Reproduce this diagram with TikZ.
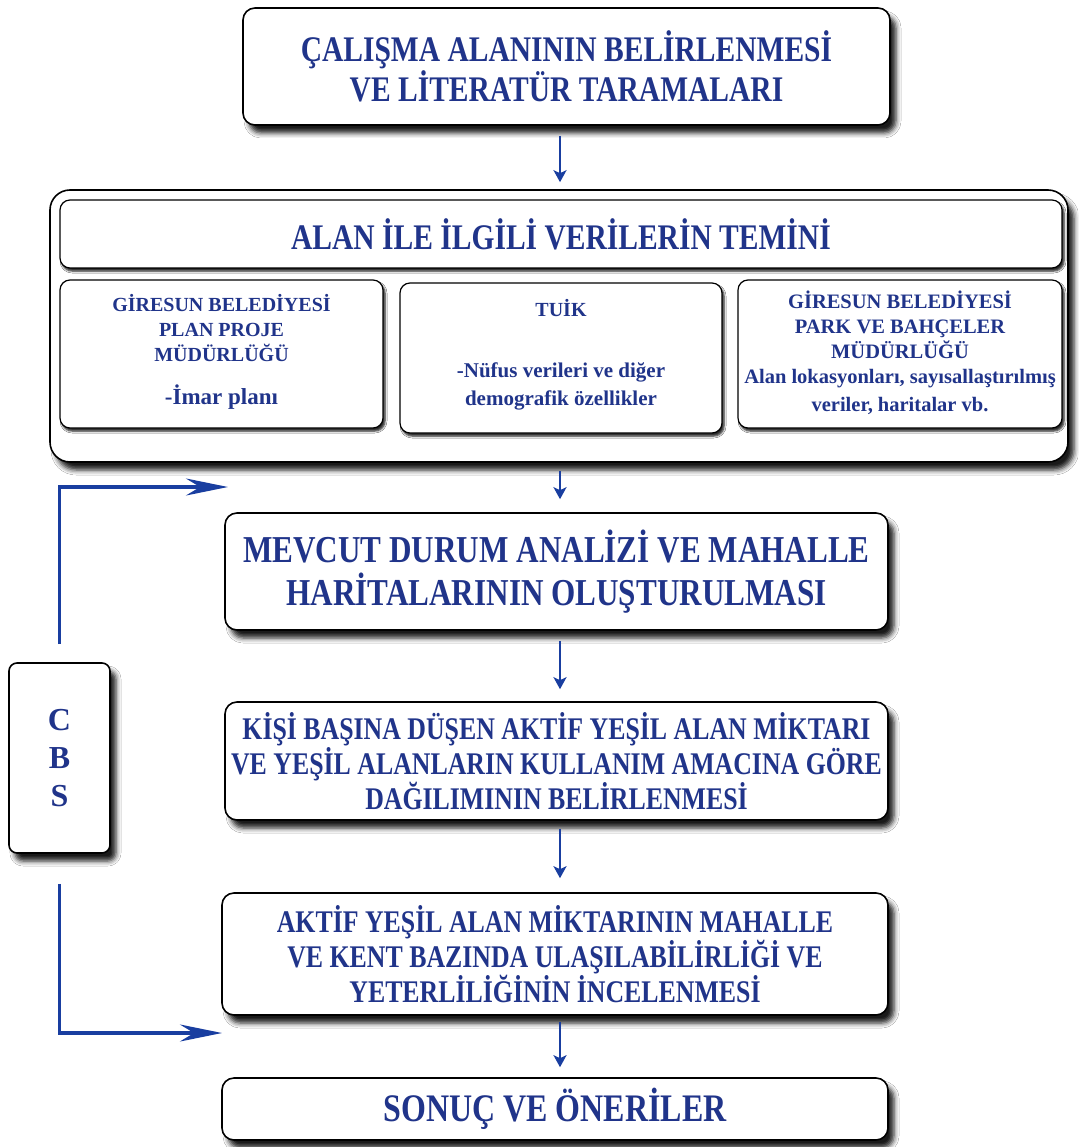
\documentclass[tikz,border=0pt]{standalone}
\usepackage{fontspec}
\setmainfont{Liberation Serif}[FakeStretch=0.82]
\newfontfamily\plainserif{Liberation Serif}
\usetikzlibrary{arrows.meta,shadows.blur}
\definecolor{tblue}{RGB}{32,52,138}
\definecolor{ablue}{RGB}{25,62,160}
\newcommand\fsz[2]{\fontsize{#1}{#2}\selectfont}
\begin{document}
\begin{tikzpicture}[x=1pt,y=-1pt,
  box/.style={draw=black, line width=1.6pt, rounded corners=12pt, fill=white,
    text=tblue, align=center, font=\bfseries, inner sep=0pt,
    blur shadow={shadow xshift=6pt, shadow yshift=-8pt, shadow blur radius=5pt, shadow opacity=90}},
  sbox/.style={box, line width=1.2pt, rounded corners=10pt,
    blur shadow={shadow xshift=2pt, shadow yshift=-3pt, shadow blur radius=2pt, shadow opacity=60}},
  lbl/.style={text=tblue, align=center, inner sep=0pt},
  varr/.style={draw=ablue, line width=2.6pt, -{Stealth[length=12pt,width=13pt,inset=3pt]}},
  carr/.style={draw=ablue, line width=3.5pt, -{Stealth[length=42pt,width=17pt,inset=14pt]}}]
\useasboundingbox (0,0) rectangle (1078,1147);
\fill[white] (0,0) rectangle (1078,1147);

\node[box, minimum width=647pt, minimum height=117pt, font=\bfseries\fsz{36}{40}] (b1) at (566.5,66.5)
  {ÇALIŞMA ALANININ BELİRLENMESİ\\VE LİTERATÜR TARAMALARI};

\node[box, rounded corners=20pt, minimum width=1018pt, minimum height=272pt] (outer) at (559,326) {};
\node[sbox, minimum width=1002pt, minimum height=68pt, font=\bfseries\fsz{36}{40}] (hdr) at (561,234)
  {ALAN İLE İLGİLİ VERİLERİN TEMİNİ};
\node[sbox, minimum width=323pt, minimum height=148pt] (s1) at (221.5,354) {};
\node[sbox, minimum width=322pt, minimum height=150pt] (s2) at (561,358) {};
\node[sbox, minimum width=324pt, minimum height=148pt] (s3) at (900,354) {};

\node[lbl, font=\plainserif\bfseries\fsz{20}{25}] (s1t) at (221.5,328) {GİRESUN BELEDİYESİ\\PLAN PROJE\\MÜDÜRLÜĞÜ};
\node[lbl, font=\plainserif\bfseries\fsz{23}{27}] (s1d) at (221.5,397) {-İmar planı};
\node[lbl, font=\plainserif\bfseries\fsz{20}{25}] (s2t) at (561,308) {TUİK};
\node[lbl, font=\plainserif\bfseries\fsz{21}{28}] (s2d) at (561,386) {-Nüfus verileri ve diğer\\demografik özellikler};
\node[lbl, font=\plainserif\bfseries\fsz{20.5}{25}] (s3t) at (900,325) {GİRESUN BELEDİYESİ\\PARK VE BAHÇELER\\MÜDÜRLÜĞÜ};
\node[lbl, font=\plainserif\bfseries\fsz{20.5}{28}] (s3d) at (900,392) {Alan lokasyonları, sayısallaştırılmış\\veriler, haritalar vb.};

\node[box, minimum width=663pt, minimum height=117pt, font=\bfseries\fsz{38}{43}] (b3) at (556.5,571.5)
  {MEVCUT DURUM ANALİZİ VE MAHALLE\\HARİTALARININ OLUŞTURULMASI};
\node[box, minimum width=663pt, minimum height=118pt, font=\bfseries\fsz{31.5}{32}] (b4) at (556.5,761)
  {KİŞİ BAŞINA DÜŞEN AKTİF YEŞİL ALAN MİKTARI\\VE YEŞİL ALANLARIN KULLANIM AMACINA GÖRE\\DAĞILIMININ BELİRLENMESİ};
\node[box, minimum width=666pt, minimum height=122pt, font=\bfseries\fsz{31.5}{32}] (b5) at (555,954)
  {AKTİF YEŞİL ALAN MİKTARININ MAHALLE\\VE KENT BAZINDA ULAŞILABİLİRLİĞİ VE\\YETERLİLİĞİNİN İNCELENMESİ};
\node[box, minimum width=666pt, minimum height=62pt, font=\bfseries\fsz{39}{42}] (b6) at (555,1109)
  {SONUÇ VE ÖNERİLER};

\node[box, rounded corners=8pt, minimum width=101pt, minimum height=190pt, font=\plainserif\bfseries\fsz{32}{38}] (cbs) at (59.5,758)
  {C\\B\\S};

\coordinate (cx) at (560,0);
\coordinate (t1) at (228,487);
\coordinate (t2) at (222,1033);

\draw[varr, shorten <=10pt, shorten >=7pt] (b1.south -| cx) -- (outer.north -| cx);
\draw[varr, shorten <=8pt, shorten >=13pt] (outer.south -| cx) -- (b3.north -| cx);
\draw[varr, shorten <=10pt, shorten >=12pt] (b3.south -| cx) -- (b4.north -| cx);
\draw[varr, shorten <=8pt, shorten >=14pt] (b4.south -| cx) -- (b5.north -| cx);
\draw[varr, shorten <=6pt, shorten >=10pt] (b5.south -| cx) -- (b6.north -| cx);

\draw[carr, shorten <=18pt] (cbs.north) |- (t1);
\draw[carr, shorten <=30pt] (cbs.south) |- (t2);
\end{tikzpicture}
\end{document}
